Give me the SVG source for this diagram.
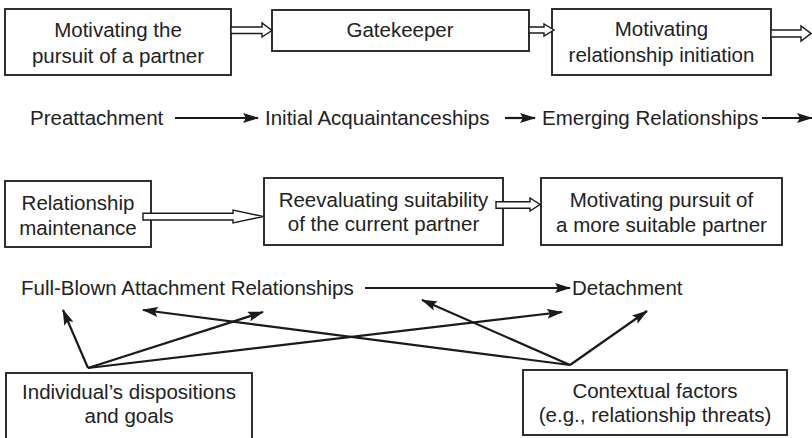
<svg xmlns="http://www.w3.org/2000/svg" width="812" height="438" viewBox="0 0 812 438">
  <defs>
    <style>
      .box { fill: #fff; stroke: #1a1a1a; stroke-width: 1.8; }
      .t { font-family: "Liberation Sans", Arial, sans-serif; font-size: 20.5px; fill: #222; }
      .c { text-anchor: middle; }
      .hollow { fill: #fff; stroke: #1a1a1a; stroke-width: 1.4; stroke-linejoin: miter; }
      .line { fill: none; stroke: #1a1a1a; stroke-width: 2.2; }
    </style>
    <marker id="head" viewBox="0 0 16 10" refX="15" refY="5" markerWidth="16" markerHeight="10" markerUnits="userSpaceOnUse" orient="auto">
      <path d="M0,0 L16,5 L0,10 L3,5 Z" fill="#1a1a1a"/>
    </marker>
  </defs>
  <rect width="812" height="438" fill="#fff"/>

  <!-- top row: motivational steps -->
  <g id="pursuit">
    <rect class="box" x="5" y="9" width="226" height="66"/>
    <text class="t c" x="118" y="37">Motivating the</text>
    <text class="t c" x="118" y="63">pursuit of a partner</text>
  </g>
  <g id="gatekeeper">
    <rect class="box" x="272" y="10" width="257" height="41"/>
    <text class="t c" x="400" y="37">Gatekeeper</text>
  </g>
  <g id="initiation">
    <rect class="box" x="552" y="9" width="219" height="66"/>
    <text class="t c" x="661.5" y="36">Motivating</text>
    <text class="t c" x="661.5" y="62">relationship initiation</text>
  </g>

  <!-- stage labels -->
  <g id="preattachment"><text class="t" x="30" y="125">Preattachment</text></g>
  <g id="acquaintance"><text class="t" x="265" y="125">Initial Acquaintanceships</text></g>
  <g id="emerging"><text class="t" x="542" y="125">Emerging Relationships</text></g>

  <!-- middle row: maintenance steps -->
  <g id="maintenance">
    <rect class="box" x="5" y="181" width="146" height="66"/>
    <text class="t c" x="78" y="210">Relationship</text>
    <text class="t c" x="78" y="235">maintenance</text>
  </g>
  <g id="reevaluating">
    <rect class="box" x="264" y="178" width="239" height="67"/>
    <text class="t c" x="383.5" y="207">Reevaluating suitability</text>
    <text class="t c" x="383.5" y="231">of the current partner</text>
  </g>
  <g id="alternative">
    <rect class="box" x="541" y="178" width="241" height="67"/>
    <text class="t c" x="661.5" y="207">Motivating pursuit of</text>
    <text class="t c" x="661.5" y="232">a more suitable partner</text>
  </g>

  <g id="fullblown"><text class="t" x="21" y="295">Full-Blown Attachment Relationships</text></g>
  <g id="detachment"><text class="t" x="572" y="295">Detachment</text></g>

  <!-- bottom row: moderating factors -->
  <g id="dispositions">
    <rect class="box" x="6" y="373" width="246" height="70"/>
    <text class="t c" x="129" y="399">Individual’s dispositions</text>
    <text class="t c" x="129" y="423">and goals</text>
  </g>
  <g id="contextual">
    <rect class="box" x="523" y="370" width="264" height="65"/>
    <text class="t c" x="655" y="398">Contextual factors</text>
    <text class="t c" x="655" y="422">(e.g., relationship threats)</text>
  </g>

  <g id="connectors">
    <!-- hollow block arrows between activation steps -->
    <path class="hollow" d="M231,27 H262 V23 L272,30.5 L262,37 V33.5 H231 Z"/>
    <path class="hollow" d="M529,27 H544 V24 L554,30 L544,36 V33 H529 Z"/>
    <path class="hollow" d="M771,30 H801 V26 L811,33.5 L801,41 V37 H771 Z"/>
    <path class="hollow" d="M143,213.3 H233 V210 L263,216.5 L233,223 V220 H143 Z"/>
    <path class="hollow" d="M496,201.7 H530 V198 L540,204.5 L530,211 V208.3 H496 Z"/>

    <!-- stage progression -->
    <line class="line" x1="175" y1="118" x2="258" y2="118" marker-end="url(#head)"/>
    <line class="line" x1="505" y1="118" x2="535" y2="118" marker-end="url(#head)"/>
    <line class="line" x1="762" y1="118" x2="812" y2="118" marker-end="url(#head)"/>
    <line class="line" x1="365" y1="288" x2="570" y2="288" marker-end="url(#head)"/>

    <!-- influences of dispositions -->
    <line class="line" x1="88" y1="368" x2="63" y2="310" marker-end="url(#head)"/>
    <line class="line" x1="88" y1="368" x2="263" y2="312" marker-end="url(#head)"/>
    <line class="line" x1="88" y1="368" x2="562" y2="312" marker-end="url(#head)"/>

    <!-- influences of contextual factors -->
    <line class="line" x1="570" y1="365" x2="143" y2="310" marker-end="url(#head)"/>
    <line class="line" x1="570" y1="365" x2="422" y2="300" marker-end="url(#head)"/>
    <line class="line" x1="570" y1="365" x2="647" y2="311" marker-end="url(#head)"/>
  </g>
</svg>
